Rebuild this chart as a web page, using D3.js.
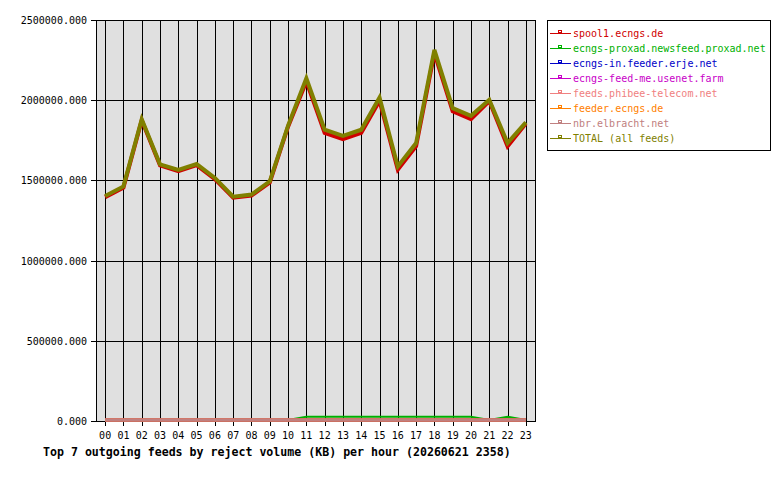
<!DOCTYPE html>
<html><head><meta charset="utf-8">
<script src="https://cdn.jsdelivr.net/npm/d3@7"></script>
<style>
html,body{margin:0;padding:0;background:#fff;}
svg{display:block;}
text{font-family:"DejaVu Sans Mono","Liberation Mono",monospace;}
</style></head>
<body>
<svg id="c" width="780" height="480"></svg>
<script>
const hours = ["00","01","02","03","04","05","06","07","08","09","10","11","12","13","14","15","16","17","18","19","20","21","22","23"];
const seriesNames = ["spool1.ecngs.de","ecngs-proxad.newsfeed.proxad.net","ecngs-in.feeder.erje.net","ecngs-feed-me.usenet.farm","feeds.phibee-telecom.net","feeder.ecngs.de","nbr.elbracht.net","TOTAL (all feeds)"];
const seriesColors = ["#d00000","#00b000","#0000c8","#c800c8","#f08080","#ff8000","#c08080","#808000"];
const spool1 = [1393000,1453000,1873000,1591000,1556000,1593000,1506000,1389000,1402000,1485000,1833000,2116000,1794000,1755000,1794000,1996000,1565000,1711000,2293000,1929000,1881000,1994000,1711000,1853000];
const proxad = [0,0,0,0,0,0,0,0,0,0,0,20000,20000,20000,20000,20000,20000,20000,20000,20000,20000,0,20000,0];
const erje = new Array(24).fill(0);
const usenetFarm = new Array(24).fill(0);
const phibee = new Array(24).fill(0);
const feederEcngs = new Array(24).fill(0);
const elbracht = new Array(24).fill(0);
const total = [1400000,1460000,1880000,1598000,1563000,1600000,1513000,1396000,1409000,1492000,1840000,2136000,1814000,1775000,1814000,2016000,1585000,1731000,2313000,1949000,1901000,2001000,1731000,1860000];
const yTicks = [0,500000,1000000,1500000,2000000,2500000];
const title = "Top 7 outgoing feeds by reject volume (KB) per hour (20260621 2358)";

const seriesData = [spool1, proxad, erje, usenetFarm, phibee, feederEcngs, elbracht, total];

const svg = d3.select("#c");
const L = 96, R = 535, T = 20, B = 421;

const x = d3.scalePoint().domain(hours).range([L, R]).padding(0.5);
const y = d3.scaleLinear().domain([0, 2500000]).range([B, T]);
// data lines sit just above the bottom frame
const yl = d3.scaleLinear().domain([0, 2500000]).range([B - 1, T]);

svg.append("rect").attr("x", L).attr("y", T).attr("width", R - L).attr("height", B - T).attr("fill", "#e0e0e0");

const grid = svg.append("g").attr("shape-rendering", "crispEdges").attr("stroke", "#000").attr("stroke-width", 1);
hours.forEach(h => {
  grid.append("line").attr("x1", Math.round(x(h)) + 0.5).attr("x2", Math.round(x(h)) + 0.5).attr("y1", T).attr("y2", B + 5);
});
yTicks.forEach(v => {
  grid.append("line").attr("x1", L - 5).attr("x2", R).attr("y1", Math.round(y(v)) + 0.5).attr("y2", Math.round(y(v)) + 0.5);
});

// frame
svg.append("rect").attr("x", L + 0.5).attr("y", T + 0.5).attr("width", R - L).attr("height", B - T)
  .attr("fill", "none").attr("stroke", "#000").attr("shape-rendering", "crispEdges");

// lines
const line = d3.line().x((d, i) => x(hours[i])).y(d => yl(d));
const widths = [4, 2, 3, 3, 3, 3, 3, 4];
seriesData.forEach((s, i) => {
  svg.append("path").datum(s).attr("d", line).attr("fill", "none")
    .attr("stroke", seriesColors[i]).attr("stroke-width", widths[i]).attr("stroke-linejoin", "miter");
});

// y labels
const fmt = d3.format(".3f");
yTicks.forEach(v => {
  svg.append("text").attr("x", 87).attr("y", y(v) + 4).attr("text-anchor", "end")
    .attr("font-size", 10).attr("fill", "#000").text(fmt(v));
});
// x labels
hours.forEach(h => {
  svg.append("text").attr("x", x(h)).attr("y", 439).attr("text-anchor", "middle")
    .attr("font-size", 10).attr("fill", "#000").text(h);
});

// title
svg.append("text").attr("x", 43).attr("y", 456).attr("font-size", 11.6).attr("font-weight", "bold")
  .attr("fill", "#000").text(title);

// legend
const lg = svg.append("g");
lg.append("rect").attr("x", 547.5).attr("y", 20.5).attr("width", 223).attr("height", 130)
  .attr("fill", "#fff").attr("stroke", "#000").attr("shape-rendering", "crispEdges");
seriesNames.forEach((n, i) => {
  const cy = 33 + i * 15;
  lg.append("line").attr("x1", 550).attr("x2", 571).attr("y1", cy + 0.5).attr("y2", cy + 0.5)
    .attr("stroke", seriesColors[i]).attr("shape-rendering", "crispEdges");
  lg.append("rect").attr("x", 558.5).attr("y", cy - 2.5).attr("width", 3).attr("height", 2)
    .attr("fill", "none").attr("stroke", seriesColors[i]).attr("shape-rendering", "crispEdges");
  lg.append("text").attr("x", 573).attr("y", cy + 4).attr("font-size", 10)
    .attr("fill", seriesColors[i]).text(n);
});
</script>
</body></html>
